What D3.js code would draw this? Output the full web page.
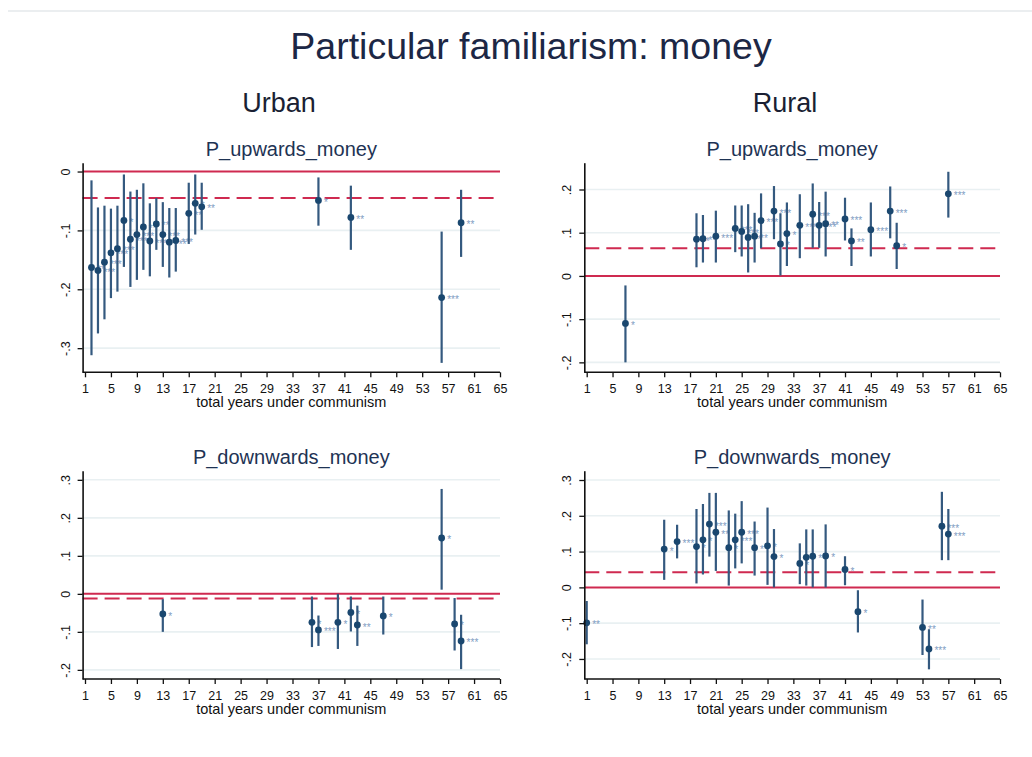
<!DOCTYPE html>
<html><head><meta charset="utf-8">
<script src="https://cdn.jsdelivr.net/npm/d3@7/dist/d3.min.js"></script>
<style>
body{margin:0;background:#fff;}
svg{display:block;font-family:"Liberation Sans",Arial,sans-serif;}
</style></head><body>
<svg id="chart" width="1032" height="757"></svg>
<script>
// ---------- data ----------
const xTicks = [1,5,9,13,17,21,25,29,33,37,41,45,49,53,57,61,65];

// Urban, P_upwards_money
const urbanUpYears = [2,3,4,5,6,7,8,9,10,11,12,13,14,15,17,18,19,37,42,56,59];
const urbanUpEst   = [-0.163,-0.168,-0.154,-0.138,-0.131,-0.083,-0.115,-0.107,-0.094,-0.118,-0.089,-0.107,-0.120,-0.117,-0.071,-0.054,-0.060,-0.049,-0.078,-0.214,-0.087];
const urbanUpLo    = [-0.312,-0.275,-0.251,-0.215,-0.204,-0.162,-0.196,-0.184,-0.167,-0.178,-0.133,-0.162,-0.180,-0.170,-0.123,-0.107,-0.099,-0.092,-0.133,-0.325,-0.145];
const urbanUpHi    = [-0.015,-0.061,-0.058,-0.063,-0.058,-0.005,-0.034,-0.031,-0.020,-0.054,-0.045,-0.052,-0.062,-0.062,-0.019,-0.005,-0.019,-0.010,-0.024,-0.102,-0.031];
const urbanUpStars = ["**","***","***","***","***","*","***","***","**","***","**","***","***","***","**","*","**","*","**","***","**"];
const urbanUpMean  = -0.045;
const urbanUpTicks = [0,-0.1,-0.2,-0.3];

// Rural, P_upwards_money
const ruralUpYears = [7,18,19,21,24,25,26,27,28,30,31,32,34,36,37,38,41,42,45,48,49,57];
const ruralUpEst   = [-0.110,0.085,0.086,0.092,0.110,0.103,0.089,0.092,0.128,0.150,0.074,0.098,0.117,0.143,0.117,0.121,0.132,0.081,0.107,0.150,0.070,0.190];
const ruralUpLo    = [-0.200,0.020,0.031,0.031,0.055,0.045,0.008,0.031,0.064,0.085,0.001,0.023,0.041,0.065,0.065,0.045,0.082,0.023,0.045,0.087,0.016,0.135];
const ruralUpHi    = [-0.022,0.145,0.141,0.151,0.163,0.163,0.166,0.146,0.191,0.208,0.145,0.170,0.189,0.214,0.171,0.195,0.181,0.110,0.170,0.207,0.123,0.241];
const ruralUpStars = ["*","**","**","***","***","***","**","**","***","***","*","*","***","***","***","**","***","**","***","***","*","***"];
const ruralUpMean  = 0.064;
const ruralUpTicks = [0.2,0.1,0,-0.1,-0.2];

// Urban, P_downwards_money
const urbanDownYears = [13,36,37,40,42,43,47,56,58,59];
const urbanDownEst   = [-0.053,-0.075,-0.095,-0.075,-0.049,-0.082,-0.058,0.147,-0.079,-0.124];
const urbanDownLo    = [-0.100,-0.140,-0.137,-0.145,-0.099,-0.137,-0.107,0.011,-0.149,-0.198];
const urbanDownHi    = [-0.014,-0.007,-0.057,0.000,-0.007,-0.031,-0.007,0.276,-0.011,-0.055];
const urbanDownStars = ["*","*","***","*","*","**","*","*","*","***"];
const urbanDownMean  = -0.012;
const urbanDownTicks = [0.3,0.2,0.1,0,-0.1,-0.2];

// Rural, P_downwards_money
const ruralDownYears = [1,13,15,18,19,20,21,23,24,25,27,29,30,34,35,36,38,41,43,53,54,56,57];
const ruralDownEst   = [-0.099,0.107,0.128,0.114,0.133,0.177,0.154,0.111,0.133,0.154,0.111,0.116,0.086,0.067,0.084,0.087,0.088,0.050,-0.068,-0.112,-0.172,0.171,0.149];
const ruralDownLo    = [-0.159,0.021,0.081,0.011,0.036,0.086,0.046,0.005,0.053,0.067,0.033,0.007,0.000,0.009,0.005,0.000,0.000,0.006,-0.126,-0.189,-0.229,0.076,0.076];
const ruralDownHi    = [-0.038,0.189,0.175,0.219,0.233,0.264,0.264,0.215,0.206,0.241,0.184,0.223,0.163,0.123,0.162,0.162,0.176,0.087,-0.008,-0.034,-0.117,0.267,0.219];
const ruralDownStars = ["**","*","***","*","*","***","**","*","***","***","**","*","*","*","*","*","*","*","*","**","***","***","***"];
const ruralDownMean  = 0.042;
const ruralDownTicks = [0.3,0.2,0.1,0,-0.1,-0.2];

const mainTitle = "Particular familiarism: money";
const columnTitles = ["Urban","Rural"];
const xTitle = "total years under communism";

// ---------- drawing ----------
const svg = d3.select("#chart");
const RED = "#cf2a50", NAVY = "#1a476f", CI = "#34597f", STAR = "#7f9dc2", GRID = "#e9f0f2";

svg.append("line").attr("x1",8).attr("x2",1032).attr("y1",11).attr("y2",11)
  .attr("stroke","#e4e9eb").attr("stroke-width",1.5);

svg.append("text").attr("x",531).attr("y",59).attr("text-anchor","middle")
  .attr("font-size",37.5).attr("fill","#1c2745").text(mainTitle);
svg.append("text").attr("x",279).attr("y",112).attr("text-anchor","middle")
  .attr("font-size",27).attr("fill","#1a1f33").text(columnTitles[0]);
svg.append("text").attr("x",785).attr("y",112).attr("text-anchor","middle")
  .attr("font-size",27).attr("fill","#1a1f33").text(columnTitles[1]);

function fmtY(d){
  if (Math.abs(d) < 1e-9) return "0";
  const s = d3.format(".1f")(Math.abs(d)).replace(/^0/,"");
  return (d < 0 ? "-" : "") + s;
}

function drawPanel(p){
  const g = svg.append("g");
  const x = d3.scaleLinear().domain([1,65]).range([p.x0, p.x1]);
  const y = d3.scaleLinear().domain(p.yDomain).range([p.bottom, p.top]);
  const axisX = p.x0 - 2.4;

  // gridlines
  g.append("g").selectAll("line").data(p.yTicks.filter(d => d !== 0)).join("line")
    .attr("x1", axisX).attr("x2", p.x1)
    .attr("y1", d => y(d)).attr("y2", d => y(d))
    .attr("stroke", GRID).attr("stroke-width", 1.6);

  // reference lines
  g.append("line").attr("x1", axisX).attr("x2", p.x1).attr("y1", y(0)).attr("y2", y(0))
    .attr("stroke", RED).attr("stroke-width", 2);
  g.append("line").attr("x1", axisX).attr("x2", p.x1).attr("y1", y(p.mean)).attr("y2", y(p.mean))
    .attr("stroke", RED).attr("stroke-width", 2).attr("stroke-dasharray", "15,7");

  const rows = p.years.map((yr, i) => ({yr, est: p.est[i], lo: p.lo[i], hi: p.hi[i], st: p.stars[i]}));

  // stars
  g.append("g").selectAll("text").data(rows).join("text")
    .attr("x", d => x(d.yr) + 5.5).attr("y", d => y(d.est) + 5.5)
    .attr("font-size", 10).attr("fill", STAR).text(d => d.st);

  // CI lines
  g.append("g").selectAll("line").data(rows).join("line")
    .attr("x1", d => x(d.yr)).attr("x2", d => x(d.yr))
    .attr("y1", d => y(d.lo)).attr("y2", d => y(d.hi))
    .attr("stroke", CI).attr("stroke-width", 2.2);

  // points
  g.append("g").selectAll("circle").data(rows).join("circle")
    .attr("cx", d => x(d.yr)).attr("cy", d => y(d.est)).attr("r", 3.4)
    .attr("fill", NAVY);

  // axes
  const ax = g.append("g").attr("transform", `translate(0,${p.bottom})`)
    .call(d3.axisBottom(x).tickValues(xTicks).tickFormat(d => d).tickSize(5).tickSizeOuter(0).tickPadding(7));
  ax.select(".domain").remove();
  ax.selectAll("line").attr("stroke", "#111").attr("stroke-width", 1.3);
  ax.selectAll("text").attr("font-size", 12.5).attr("fill", "#111")
    .attr("font-family", "'Liberation Sans',Arial,sans-serif");
  g.append("line").attr("x1", axisX).attr("x2", p.x1).attr("y1", p.bottom).attr("y2", p.bottom)
    .attr("stroke", "#111").attr("stroke-width", 1.6);

  const ay = g.append("g").attr("transform", `translate(${axisX},0)`)
    .call(d3.axisLeft(y).tickValues(p.yTicks).tickFormat(fmtY).tickSize(5).tickSizeOuter(0));
  ay.select(".domain").attr("stroke", "#111").attr("stroke-width", 1.6);
  ay.selectAll("line").attr("stroke", "#111").attr("stroke-width", 1.3);
  ay.selectAll("text")
    .attr("transform", "rotate(-90)")
    .attr("x", 0).attr("y", -13).attr("dy", null)
    .attr("text-anchor", "middle")
    .attr("font-size", 12.5).attr("fill", "#111")
    .attr("font-family", "'Liberation Sans',Arial,sans-serif");

  // titles
  const cx = (axisX + p.x1) / 2;
  g.append("text").attr("x", cx).attr("y", p.top - 7).attr("text-anchor", "middle")
    .attr("font-size", 20).attr("fill", "#1e3354").text(p.title);
  g.append("text").attr("x", cx).attr("y", p.bottom + 35).attr("text-anchor", "middle")
    .attr("font-size", 14.5).attr("fill", "#111").text(xTitle);
}

const panels = [
  {title:"P_upwards_money", years:urbanUpYears, est:urbanUpEst, lo:urbanUpLo, hi:urbanUpHi, stars:urbanUpStars,
   mean:urbanUpMean, yTicks:urbanUpTicks, yDomain:[-0.341,0.015], x0:85, x1:500, top:162.7, bottom:372.3},
  {title:"P_upwards_money", years:ruralUpYears, est:ruralUpEst, lo:ruralUpLo, hi:ruralUpHi, stars:ruralUpStars,
   mean:ruralUpMean, yTicks:ruralUpTicks, yDomain:[-0.223,0.262], x0:586.7, x1:1000, top:162.7, bottom:372.3},
  {title:"P_downwards_money", years:urbanDownYears, est:urbanDownEst, lo:urbanDownLo, hi:urbanDownHi, stars:urbanDownStars,
   mean:urbanDownMean, yTicks:urbanDownTicks, yDomain:[-0.224,0.324], x0:85, x1:500, top:470.7, bottom:679},
  {title:"P_downwards_money", years:ruralDownYears, est:ruralDownEst, lo:ruralDownLo, hi:ruralDownHi, stars:ruralDownStars,
   mean:ruralDownMean, yTicks:ruralDownTicks, yDomain:[-0.256,0.326], x0:586.7, x1:1000, top:470.7, bottom:679}
];
panels.forEach(drawPanel);
</script>
</body></html>
